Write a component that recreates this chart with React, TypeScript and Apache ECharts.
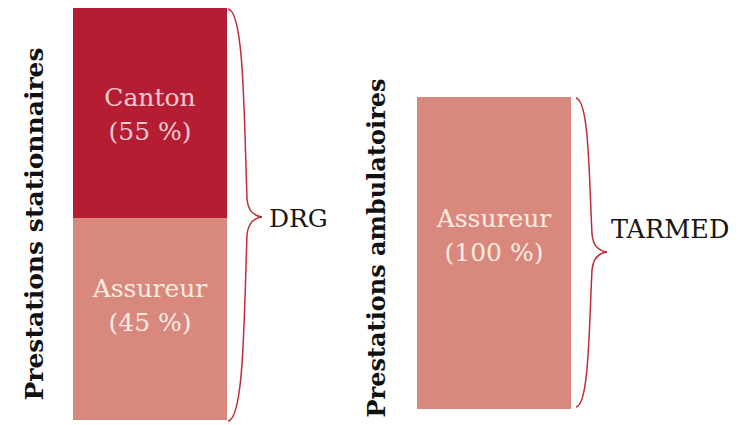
import React, { useEffect, useRef } from "react";
import * as echarts from "echarts";

// Groups (vertical titles) and the tariff each group is billed with
const groups = ["Prestations stationnaires", "Prestations ambulatoires"];
const tariffs = ["DRG", "TARMED"];

// Stationary care: parts (bottom to top), published shares and bar heights as drawn
const stationnaireParts = ["Assureur", "Canton"];
const stationnaireShares = [45, 55];
const stationnaireHeights = [49, 51];

// Ambulatory care
const ambulatoireParts = ["Assureur"];
const ambulatoireShares = [100];
const ambulatoireHeights = [100];

const DARK_RED = "#b51e32";
const SALMON = "#d8887c";
const BRACE = "#c02a3d";
const SERIF = "'DejaVu Serif', 'Liberation Serif', serif";

function brace(x0: number, yTop: number, yBot: number, tipX: number, tipY: number, bodyX: number) {
  const style = { stroke: BRACE, lineWidth: 1.5, fill: "none" };
  const mk = (x1: number, y1: number, cpx1: number, cpy1: number, cpx2: number, cpy2: number, x2: number, y2: number) => ({
    type: "bezierCurve",
    shape: { x1, y1, cpx1, cpy1, cpx2, cpy2, x2, y2 },
    style,
    silent: true,
  });
  return [
    mk(x0, yTop, bodyX - 2, yTop + 2, bodyX - 2, (yTop + tipY) / 2, bodyX + 1, tipY - 18),
    mk(bodyX + 1, tipY - 18, bodyX + 2, tipY - 6, bodyX + 8, tipY - 1, tipX, tipY),
    mk(tipX, tipY, bodyX + 8, tipY + 1, bodyX + 2, tipY + 6, bodyX + 1, tipY + 18),
    mk(bodyX + 1, tipY + 18, bodyX - 2, (tipY + yBot) / 2, bodyX - 2, yBot - 2, x0, yBot),
  ];
}

export default function App() {
  const ref = useRef<HTMLDivElement>(null);

  useEffect(() => {
    if (!ref.current) return;
    const chart = echarts.init(ref.current, undefined, { renderer: "svg" });

    const labelBase = {
      show: true,
      position: "inside",
      fontFamily: SERIF,
      fontSize: 25,
      lineHeight: 34,
    };

    const option: any = {
      animation: false,
      backgroundColor: "#ffffff",
      grid: [
        { left: 73, width: 154, top: 8, height: 412 },
        { left: 417, width: 154, top: 97, height: 312 },
      ],
      xAxis: [
        { type: "category", gridIndex: 0, data: [groups[0]], show: false },
        { type: "category", gridIndex: 1, data: [groups[1]], show: false },
      ],
      yAxis: [
        { type: "value", gridIndex: 0, min: 0, max: 100, show: false },
        { type: "value", gridIndex: 1, min: 0, max: 100, show: false },
      ],
      series: [
        {
          type: "bar",
          name: stationnaireParts[0],
          stack: "stat",
          xAxisIndex: 0,
          yAxisIndex: 0,
          barWidth: "100%",
          data: [stationnaireHeights[0]],
          itemStyle: { color: SALMON },
          label: {
            ...labelBase,
            color: "#fcebe3",
            offset: [0, -14],
            formatter: () => `${stationnaireParts[0]}\n(${stationnaireShares[0]} %)`,
          },
        },
        {
          type: "bar",
          name: stationnaireParts[1],
          stack: "stat",
          xAxisIndex: 0,
          yAxisIndex: 0,
          barWidth: "100%",
          data: [stationnaireHeights[1]],
          itemStyle: { color: DARK_RED },
          label: {
            ...labelBase,
            color: "#f3c8d2",
            offset: [0, 1],
            formatter: () => `${stationnaireParts[1]}\n(${stationnaireShares[1]} %)`,
          },
        },
        {
          type: "bar",
          name: ambulatoireParts[0],
          xAxisIndex: 1,
          yAxisIndex: 1,
          barWidth: "100%",
          data: [ambulatoireHeights[0]],
          itemStyle: { color: SALMON },
          label: {
            ...labelBase,
            color: "#fcebe3",
            offset: [0, -18],
            formatter: () => `${ambulatoireParts[0]}\n(${ambulatoireShares[0]} %)`,
          },
        },
      ],
      graphic: [
        ...brace(228, 9, 421, 262, 217, 246),
        ...brace(576, 98, 407, 607, 252, 591),
        {
          type: "text",
          x: 269,
          y: 218,
          style: { text: tariffs[0], x: 0, y: 0, align: "left", verticalAlign: "middle", font: `25px ${SERIF}`, fill: "#161616" },
        },
        {
          type: "text",
          x: 611,
          y: 229,
          style: { text: tariffs[1], x: 0, y: 0, align: "left", verticalAlign: "middle", font: `25.5px ${SERIF}`, fill: "#161616" },
        },
        {
          type: "text",
          x: 34,
          y: 224,
          rotation: Math.PI / 2,
          style: { text: groups[0], x: 0, y: 0, align: "center", verticalAlign: "middle", font: `bold 25px ${SERIF}`, fill: "#111111" },
        },
        {
          type: "text",
          x: 376,
          y: 248,
          rotation: Math.PI / 2,
          style: { text: groups[1], x: 0, y: 0, align: "center", verticalAlign: "middle", font: `bold 24px ${SERIF}`, fill: "#111111" },
        },
      ],
    };

    chart.setOption(option);
    return () => chart.dispose();
  }, []);

  return (
    <div
      ref={ref}
      style={{ position: "absolute", left: 0, top: 0, width: 744, height: 425, background: "#ffffff" }}
    />
  );
}
